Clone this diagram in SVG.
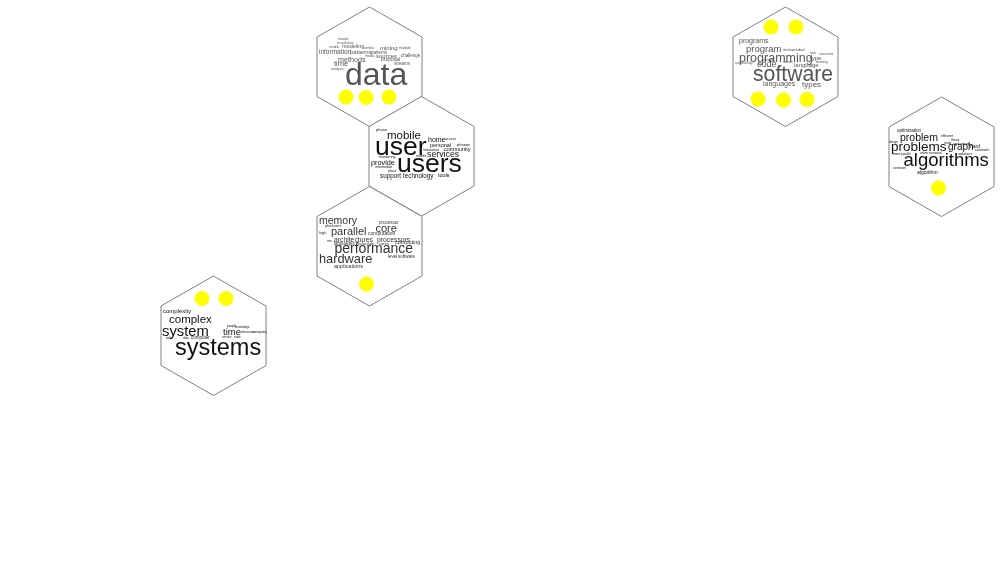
<svg xmlns="http://www.w3.org/2000/svg" width="1000" height="582" viewBox="0 0 1000 582">
<style>
text{font-family:"Liberation Sans",Arial,sans-serif}
.hex{fill:#fff;stroke:#808080;stroke-width:1}
.dot{fill:#ffff00}
.words{filter:url(#soft)}
.g5 text{fill:#555}
.g3 text{fill:#333}
.g1 text{fill:#111}
</style>
<defs>
<filter id="soft" color-interpolation-filters="sRGB" x="-5%" y="-5%" width="110%" height="110%">
<feColorMatrix type="saturate" values="0"/>
<feGaussianBlur stdDeviation="0.25"/>
</filter>
<polygon id="hx" class="hex" points="52.500,0 105,30 105,89.500 52.500,119.500 0,89.500 0,30"/>
<circle id="d" class="dot" r="7.500"/>
</defs>
<g id="connectors"></g>
<g id="node-data" class="g5">
<use href="#hx" x="317" y="7"/>
<g class="words">
<text x="338" y="40" font-size="3">towards</text>
<text x="337" y="44" font-size="3">visualization</text>
<text x="329" y="48" font-size="3.500">enable</text>
<text x="342" y="47.500" font-size="5.500">modeling</text>
<text x="364" y="49" font-size="3.500">similar</text>
<text x="380" y="50" font-size="6">mining</text>
<text x="399" y="48.500" font-size="3.500">multiple</text>
<text x="319" y="54" font-size="6.500">information</text>
<text x="350" y="54" font-size="6">patterns</text>
<text x="371" y="53.500" font-size="4.500">patterns</text>
<text x="365" y="57" font-size="3.500">media</text>
<text x="376" y="57.500" font-size="6">sources</text>
<text x="401" y="56.500" font-size="4.500">challenge</text>
<text x="381" y="60.500" font-size="5">proposal</text>
<text x="338" y="61.500" font-size="7.200">methods</text>
<text x="334" y="66" font-size="7.600">time</text>
<text x="394" y="65" font-size="4.500">streams</text>
<text x="331" y="70" font-size="3.500">analysis</text>
<text x="345" y="84.500" font-size="32">data</text>
</g>
</g>
<g id="node-users" class="g1">
<use href="#hx" x="369" y="96.500"/>
<g class="words">
<text x="376" y="131" font-size="4">phase</text>
<text x="387" y="139" font-size="11.500">mobile</text>
<text x="375" y="155" font-size="26.500">user</text>
<text x="428" y="142" font-size="7">home</text>
<text x="445" y="139.500" font-size="3.500">access</text>
<text x="430" y="147" font-size="5.500">personal</text>
<text x="457" y="146" font-size="4">phones</text>
<text x="423" y="151" font-size="3.500">interaction</text>
<text x="444" y="151" font-size="5.500">community</text>
<text x="416" y="157" font-size="3.500">mobile</text>
<text x="427" y="156.500" font-size="8.800">services</text>
<text x="379" y="158" font-size="3.500">monitoring</text>
<text x="371" y="164.500" font-size="7.300">provide</text>
<text x="375" y="168" font-size="3.500">information</text>
<text x="397" y="172" font-size="26.500">users</text>
<text x="388" y="172" font-size="3.500">place</text>
<text x="380" y="178" font-size="6.300">support</text>
<text x="403" y="178" font-size="6.300">technology</text>
<text x="438" y="176.500" font-size="5.500">tools</text>
</g>
</g>
<g id="node-hardware" class="g3">
<use href="#hx" x="317" y="186.500"/>
<g class="words">
<text x="319" y="223.500" font-size="10.500">memory</text>
<text x="325" y="227" font-size="4">platforms</text>
<text x="319" y="234" font-size="4">high</text>
<text x="331" y="234.500" font-size="11">parallel</text>
<text x="379" y="224" font-size="4.500">processor</text>
<text x="375.500" y="232" font-size="11">core</text>
<text x="368" y="235" font-size="5">computation</text>
<text x="334" y="241.500" font-size="6.800">architectures</text>
<text x="377" y="241.500" font-size="6.800">processors</text>
<text x="327" y="242" font-size="3">mm</text>
<text x="334" y="245" font-size="4.500">languages</text>
<text x="358" y="245" font-size="4">schedule</text>
<text x="379" y="245" font-size="4">cores</text>
<text x="395" y="244" font-size="5.500">computing</text>
<text x="334.500" y="253" font-size="14">performance</text>
<text x="319" y="262.500" font-size="12.800">hardware</text>
<text x="388" y="258" font-size="4.500">level</text>
<text x="398" y="258" font-size="4.500">software</text>
<text x="334" y="268" font-size="5.500">applications</text>
</g>
</g>
<g id="node-systems" class="g1">
<use href="#hx" x="161" y="276"/>
<g class="words">
<text x="163" y="313" font-size="6">complexity</text>
<text x="169" y="323" font-size="11.500">complex</text>
<text x="162" y="335.500" font-size="14.800">system</text>
<text x="223" y="334.500" font-size="9.500">time</text>
<text x="227" y="327" font-size="3">people</text>
<text x="235" y="328" font-size="3">knowledge</text>
<text x="241" y="333" font-size="3">interaction</text>
<text x="253" y="333" font-size="3">computing</text>
<text x="222" y="338" font-size="3">service</text>
<text x="234" y="338" font-size="3">node</text>
<text x="183" y="339" font-size="3">data</text>
<text x="191" y="339" font-size="4.500">computer</text>
<text x="166" y="339" font-size="3">tools</text>
<text x="175" y="354.500" font-size="23.500">systems</text>
</g>
</g>
<g id="node-software" class="g5">
<use href="#hx" x="733" y="7"/>
<g class="words">
<text x="739" y="43" font-size="7">programs</text>
<text x="746" y="52" font-size="9.500">program</text>
<text x="739" y="62" font-size="12.500">programming</text>
<text x="783" y="51" font-size="3">development</text>
<text x="799" y="51" font-size="3.500">tool</text>
<text x="810" y="54" font-size="3">tools</text>
<text x="819" y="55" font-size="3">concurrent</text>
<text x="810" y="60" font-size="6">type</text>
<text x="816" y="63" font-size="4">testing</text>
<text x="763" y="61" font-size="3">devices</text>
<text x="735" y="64" font-size="3">automatically</text>
<text x="757" y="67" font-size="9">code</text>
<text x="783" y="63" font-size="3">domain</text>
<text x="794" y="67" font-size="6">language</text>
<text x="753" y="80.500" font-size="21.200">software</text>
<text x="763" y="85.500" font-size="7">languages</text>
<text x="802" y="87" font-size="8">types</text>
</g>
</g>
<g id="node-algorithms" class="g1">
<use href="#hx" x="889" y="97"/>
<g class="words">
<text x="897" y="132" font-size="4.500">optimization</text>
<text x="900" y="141" font-size="10.500">problem</text>
<text x="941" y="137" font-size="3.500">efficient</text>
<text x="951" y="141" font-size="3">theory</text>
<text x="944" y="144" font-size="3">study</text>
<text x="953" y="145" font-size="3">approximate</text>
<text x="970" y="148" font-size="5">hard</text>
<text x="975" y="151" font-size="3">constraints</text>
<text x="891" y="150.500" font-size="13.500">problems</text>
<text x="948" y="150" font-size="10">graph</text>
<text x="889" y="143" font-size="3">design</text>
<text x="893" y="155" font-size="4">time</text>
<text x="901" y="155" font-size="3">parallel</text>
<text x="920" y="154" font-size="3">online numerical</text>
<text x="958" y="155" font-size="4">solution</text>
<text x="903.500" y="165.500" font-size="18.500">algorithms</text>
<text x="893" y="169" font-size="3">constraint</text>
<text x="917" y="174" font-size="5">algorithm</text>
</g>
</g>
<use href="#d" x="346" y="97"/>
<use href="#d" x="366" y="97.500"/>
<use href="#d" x="389" y="97"/>
<use href="#d" x="366.500" y="284"/>
<use href="#d" x="202" y="298.500"/>
<use href="#d" x="226" y="298.500"/>
<use href="#d" x="771" y="27"/>
<use href="#d" x="796" y="27"/>
<use href="#d" x="758" y="99"/>
<use href="#d" x="783.500" y="100"/>
<use href="#d" x="807" y="99.500"/>
<use href="#d" x="938.500" y="188"/>
</svg>
